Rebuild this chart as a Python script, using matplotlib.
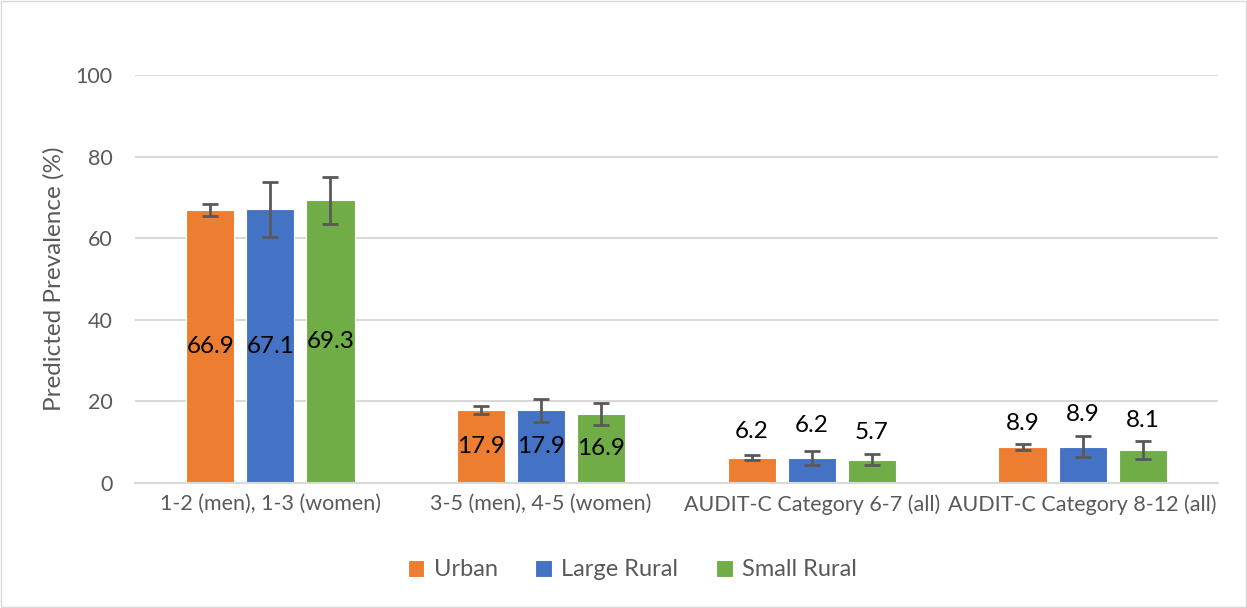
import matplotlib.pyplot as plt
import numpy as np

plt.rcParams['font.family'] = ['Lato', 'DejaVu Sans']

categories = ['1-2 (men), 1-3 (women)', '3-5 (men), 4-5 (women)',
              'AUDIT-C Category 6-7 (all)', 'AUDIT-C Category 8-12 (all)']
series = ['Urban', 'Large Rural', 'Small Rural']
colors = ['#ED7D31', '#4472C4', '#70AD47']

urban = [66.9, 17.9, 6.2, 8.9]
large_rural = [67.1, 17.9, 6.2, 8.9]
small_rural = [69.3, 16.9, 5.7, 8.1]

# confidence limits (lower, upper)
urban_lo = [65.5, 17.0, 5.6, 8.1]
urban_hi = [68.5, 18.9, 6.8, 9.6]
large_lo = [60.2, 14.9, 4.5, 6.4]
large_hi = [73.7, 20.7, 7.8, 11.6]
small_lo = [63.6, 14.3, 4.4, 6.0]
small_hi = [75.0, 19.6, 7.2, 10.3]

values = [urban, large_rural, small_rural]
lows = [urban_lo, large_lo, small_lo]
highs = [urban_hi, large_hi, small_hi]

# label heights for the small groups (Excel placed them above the bars)
label_y = [[None, None, 12.5, 14.5],
           [None, None, 14.2, 16.9],
           [None, None, 12.3, 15.4]]

fig = plt.figure(figsize=(12.47, 6.08), dpi=100)
ax = fig.add_axes([135/1247, 1 - 483/608, 1083/1247, 408/608])

x = np.arange(len(categories))
width = 0.178
offsets = [-0.222, 0, 0.222]

for i in range(3):
    v = np.array(values[i])
    err = [v - np.array(lows[i]), np.array(highs[i]) - v]
    ax.bar(x + offsets[i], v, width, color=colors[i], label=series[i],
           edgecolor='white', linewidth=0.8, zorder=2)
    ax.errorbar(x + offsets[i], v, yerr=err, fmt='none', ecolor='#595959',
                elinewidth=2, capsize=6, capthick=2, zorder=3)
    for j in range(len(categories)):
        if label_y[i][j] is None:
            ax.text(x[j] + offsets[i], v[j] / 2, f'{v[j]:.1f}', ha='center',
                    va='center', fontsize=17.5, color='black', zorder=4)
        else:
            ax.text(x[j] + offsets[i], label_y[i][j], f'{v[j]:.1f}', ha='center',
                    va='center', fontsize=17.5, color='black', zorder=4)

ax.set_xlim(-0.5, 3.5)
ax.set_ylim(0, 100)
ax.set_yticks([0, 20, 40, 60, 80, 100])
ax.set_xticks(x)
ax.set_xticklabels(categories)
ax.yaxis.grid(True, color='#D9D9D9', linewidth=1.5, zorder=0)
ax.set_axisbelow(True)
for s in ['top', 'right', 'left']:
    ax.spines[s].set_visible(False)
ax.spines['bottom'].set_color('#D9D9D9')
ax.spines['bottom'].set_linewidth(1.5)
ax.tick_params(axis='both', length=0, labelsize=15.5, colors='#595959', pad=8)
ax.tick_params(axis='y', pad=16)
ax.set_ylabel('Predicted Prevalence (%)', fontsize=17.5, color='#595959', labelpad=8)

fig.legend(loc='center', bbox_to_anchor=(0.507, 1 - 570/608), ncol=3, frameon=False,
           fontsize=17, handlelength=0.7, handleheight=0.7, columnspacing=1.6,
           handletextpad=0.4, labelcolor='#595959')

fig.patches.append(plt.Rectangle((0.001, 0.002), 0.998, 0.996, transform=fig.transFigure,
                                 fill=False, edgecolor='#D9D9D9', linewidth=1))

fig.savefig('out.png', dpi=100, facecolor='white')
